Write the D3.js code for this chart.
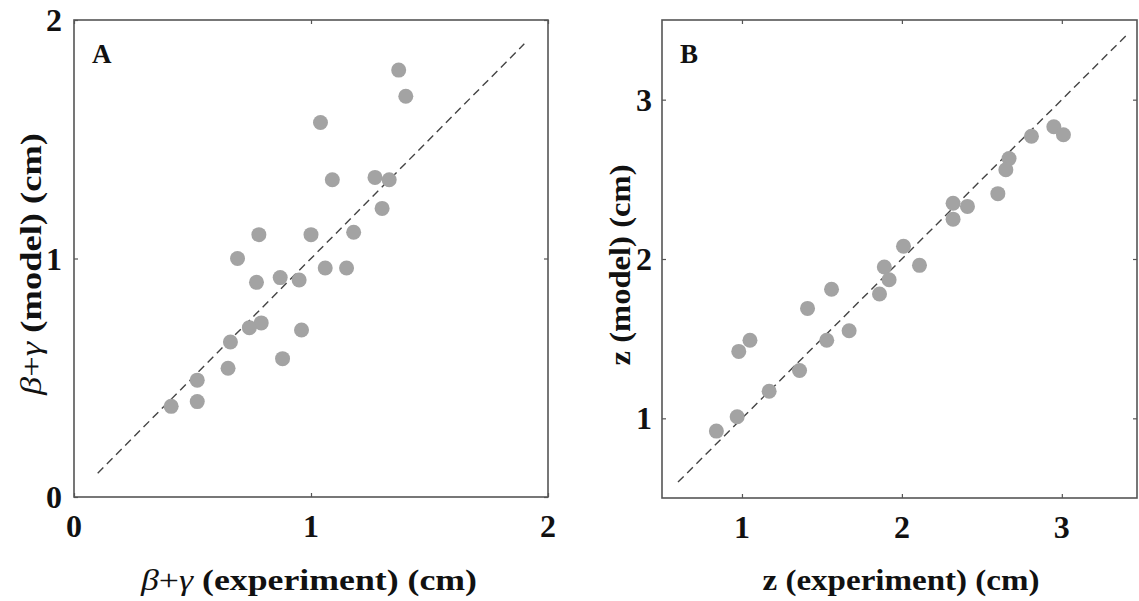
<!DOCTYPE html>
<html>
<head>
<meta charset="utf-8">
<script src="https://cdnjs.cloudflare.com/ajax/libs/d3/7.8.5/d3.min.js"></script>
<style>
  body { margin: 0; background: #fff; }
  svg text { font-family: "Liberation Serif", "Times New Roman", serif; font-weight: bold; fill: #111; }
</style>
</head>
<body>
<div id="chart"></div>
<script>
// panel A: beta+gamma, experiment vs model (cm)
const bgExperiment = [1.37, 1.40, 1.04, 1.09, 1.27, 1.33, 1.30, 0.78, 1.00, 1.18, 0.69, 1.06, 1.15,
  0.77, 0.87, 0.95, 0.79, 0.74, 0.96, 0.66, 0.88, 0.65, 0.52, 0.52, 0.41];
const bgModel = [1.79, 1.68, 1.57, 1.33, 1.34, 1.33, 1.21, 1.10, 1.10, 1.11, 1.00, 0.96, 0.96,
  0.90, 0.92, 0.91, 0.73, 0.71, 0.70, 0.65, 0.58, 0.54, 0.49, 0.40, 0.38];

// panel B: z, experiment vs model (cm)
const zExperiment = [2.95, 3.01, 2.81, 2.67, 2.65, 2.60, 2.32, 2.41, 2.32, 2.01, 2.11, 1.89,
  1.92, 1.56, 1.86, 1.41, 1.67, 1.53, 1.05, 0.98, 1.36, 1.17, 0.97, 0.84];
const zModel = [2.83, 2.78, 2.77, 2.63, 2.56, 2.41, 2.35, 2.33, 2.25, 2.08, 1.96, 1.95,
  1.87, 1.81, 1.78, 1.69, 1.55, 1.49, 1.49, 1.42, 1.30, 1.17, 1.01, 0.92];

const ticksA = [0, 1, 2];
const ticksB = [1, 2, 3];
const domainA = [0, 2];
const domainBx = [0.5, 3.47];
const domainBy = [0.5, 3.5];
const diagA = [0.1, 1.9];
const diagB = [0.6, 3.4];

const W = 1139, H = 601;
const svg = d3.select("#chart").append("svg")
  .attr("width", W)
  .attr("height", H);

function drawPanel(opt) {
  const x = d3.scaleLinear().domain(opt.xDomain).range([opt.left, opt.right]);
  const y = d3.scaleLinear().domain(opt.yDomain).range([opt.bottom, opt.top]);
  const g = svg.append("g");

  // inner ticks on all four sides (box on)
  const tl = 4;
  const axes = [
    [d3.axisBottom(x).tickValues(opt.ticks).tickSize(-tl), opt.bottom, "x"],
    [d3.axisTop(x).tickValues(opt.ticks).tickSize(-tl), opt.top, "x"],
    [d3.axisLeft(y).tickValues(opt.ticks).tickSize(-tl), opt.left, "y"],
    [d3.axisRight(y).tickValues(opt.ticks).tickSize(-tl), opt.right, "y"]
  ];
  axes.forEach(([ax, pos, dir]) => {
    const a = g.append("g")
      .attr("transform", dir === "x" ? `translate(0,${pos})` : `translate(${pos},0)`)
      .call(ax);
    a.select(".domain").remove();
    a.selectAll("line").attr("stroke", "#555").attr("stroke-width", 1.2);
    a.selectAll("text").remove();
  });

  g.append("rect")
    .attr("x", opt.left).attr("y", opt.top)
    .attr("width", opt.right - opt.left).attr("height", opt.bottom - opt.top)
    .attr("fill", "none").attr("stroke", "#555").attr("stroke-width", 1.6);

  // tick labels
  g.selectAll(".xt").data(opt.ticks).join("text")
    .attr("x", d => x(d)).attr("y", opt.bottom + 40)
    .attr("text-anchor", "middle")
    .style("font-size", "32px")
    .text(d => d);
  g.selectAll(".yt").data(opt.ticks).join("text")
    .attr("x", opt.left - opt.yLabelGap).attr("y", d => y(d) + 11)
    .attr("text-anchor", "end")
    .style("font-size", "32px")
    .text(d => d);

  // dashed 1:1 line
  g.append("line")
    .attr("x1", x(opt.diag[0])).attr("y1", y(opt.diag[0]))
    .attr("x2", x(opt.diag[1])).attr("y2", y(opt.diag[1]))
    .attr("stroke", "#444").attr("stroke-width", 1.4)
    .attr("stroke-dasharray", "8,5");

  g.selectAll("circle").data(opt.xs).join("circle")
    .attr("cx", d => x(d))
    .attr("cy", (d, i) => y(opt.ys[i]))
    .attr("r", 7.5)
    .attr("fill", "#a3a3a3");

  g.append("text")
    .attr("x", opt.left + 18).attr("y", opt.top + 43)
    .style("font-size", "27px")
    .text(opt.letter);

  // axis titles
  const xt = g.append("text")
    .attr("x", opt.xTitleX).attr("y", 590)
    .attr("text-anchor", "middle")
    .attr("textLength", opt.xTitleLen)
    .attr("lengthAdjust", "spacingAndGlyphs")
    .style("font-size", "30px");
  opt.xTitle(xt);

  const yt = g.append("text")
    .attr("transform", `translate(${opt.left - opt.yTitleGap},${opt.yTitleY}) rotate(-90)`)
    .attr("text-anchor", "middle")
    .attr("textLength", opt.yTitleLen)
    .attr("lengthAdjust", "spacingAndGlyphs")
    .style("font-size", "30px");
  opt.yTitle(yt);
}

function betaGamma(t, rest) {
  t.append("tspan").style("font-style", "italic").style("font-weight", "normal").text("β");
  t.append("tspan").style("font-weight", "normal").text("+");
  t.append("tspan").style("font-style", "italic").style("font-weight", "normal").text("γ");
  t.append("tspan").text(rest);
}

drawPanel({
  left: 74, right: 548, top: 20, bottom: 497,
  xDomain: domainA, yDomain: domainA, ticks: ticksA, diag: diagA,
  xs: bgExperiment, ys: bgModel, letter: "A",
  yLabelGap: 12, yTitleGap: 33, yTitleY: 264, yTitleLen: 262,
  xTitleX: 309, xTitleLen: 336,
  xTitle: t => betaGamma(t, " (experiment) (cm)"),
  yTitle: t => betaGamma(t, " (model) (cm)")
});

drawPanel({
  left: 662, right: 1137, top: 20, bottom: 498,
  xDomain: domainBx, yDomain: domainBy, ticks: ticksB, diag: diagB,
  xs: zExperiment, ys: zModel, letter: "B",
  yLabelGap: 10, yTitleGap: 32, yTitleY: 265, yTitleLen: 201,
  xTitleX: 901, xTitleLen: 277,
  xTitle: t => t.text("z (experiment) (cm)"),
  yTitle: t => t.text("z (model) (cm)")
});
</script>
</body>
</html>
